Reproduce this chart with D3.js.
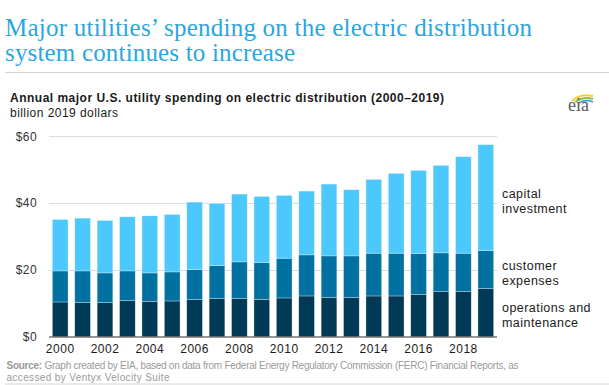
<!DOCTYPE html>
<html><head><meta charset="utf-8">
<script src="https://cdn.jsdelivr.net/npm/d3@7"></script>
<style>body{margin:0;background:#fff}svg{display:block}</style>
</head><body>
<script>
const years = d3.range(2000, 2020);
const om = [10.4,10.3,10.2,10.8,10.6,10.7,11.1,11.4,11.5,11.2,11.6,12.2,11.8,11.7,12.2,12.2,12.7,13.6,13.6,14.4];
const custTop = [19.7,19.7,19.1,19.7,19.1,19.4,20.1,21.3,22.4,22.2,23.5,24.5,24.2,24.2,25.0,25.0,24.9,25.1,25.0,25.8];
const totals = [35.1,35.5,34.8,35.9,36.2,36.6,40.3,39.9,42.7,42.0,42.3,43.6,45.7,44.0,47.1,48.9,49.8,51.3,53.9,57.5];
const customer = custTop.map((v,i)=>+(v-om[i]).toFixed(1));
const capital = totals.map((v,i)=>+(v-custTop[i]).toFixed(1));
const yTicks = [0,20,40,60];
const xTickYears = [2000,2002,2004,2006,2008,2010,2012,2014,2016,2018];
const seriesKeys = ["om","customer","capital"];
const seriesColors = {om:"#003a56", customer:"#0071a0", capital:"#4dc8fd"};

const W=609,H=385;
const SANS="Liberation Sans, Arial, sans-serif", SERIF="Liberation Serif, serif";
const svg=d3.select("body").append("svg").attr("width",W).attr("height",H);

function fitWidth(t, w){
  const cur=t.node().getComputedTextLength();
  if(cur>0) t.attr("textLength",w).attr("lengthAdjust","spacing");
  return t;
}

const t1=svg.append("text").attr("x",5).attr("y",36).attr("font-family",SERIF).attr("font-size",23).attr("fill","#2aa6df").text("Major utilities’ spending on the electric distribution");
const cur1=t1.node().getComputedTextLength();
const tfs=Math.min(25, 23*527/cur1);
t1.attr("font-size",tfs);
fitWidth(t1,527);
const t2=svg.append("text").attr("x",5).attr("y",61).attr("font-family",SERIF).attr("font-size",tfs).attr("fill","#2aa6df").text("system continues to increase");
fitWidth(t2,290);
svg.append("line").attr("x1",5).attr("x2",609).attr("y1",72.5).attr("y2",72.5).attr("stroke","#d4d4d4");

const s1=svg.append("text").attr("x",10).attr("y",102).attr("font-family",SANS).attr("font-weight","bold").attr("font-size",12).attr("fill","#1a1a1a").text("Annual major U.S. utility spending on electric distribution (2000–2019)");
fitWidth(s1,434);
const s2=svg.append("text").attr("x",10).attr("y",117).attr("font-family",SANS).attr("font-size",12).attr("fill","#1a1a1a").text("billion 2019 dollars");
fitWidth(s2,108);

// eia logo
const lg=svg.append("g");
lg.append("path").attr("d","M572,101 Q580,93 593,96").attr("fill","none").attr("stroke","#f2cf3a").attr("stroke-width",2);
lg.append("path").attr("d","M575,102 Q583,96 593,99").attr("fill","none").attr("stroke","#8cc640").attr("stroke-width",2);
lg.append("path").attr("d","M579,103 Q586,99 593,102").attr("fill","none").attr("stroke","#3aa6dd").attr("stroke-width",1.8);
lg.append("text").attr("x",568).attr("y",111).attr("font-family",SERIF).attr("font-size",18).attr("fill","#5a5a5a").text("eia");

const x=d3.scaleBand().domain(years).range([49,497]).paddingInner(0.3).paddingOuter(0.15);
const y=d3.scaleLinear().domain([0,60]).range([336.7,136.3]);

const grid=svg.append("g");
grid.selectAll("line").data(yTicks.filter(d=>d>0)).join("line")
 .attr("x1",49).attr("x2",497).attr("y1",d=>Math.round(y(d))+0.5).attr("y2",d=>Math.round(y(d))+0.5)
 .attr("stroke","#dcdcdc").attr("stroke-width",1);

const yAxis=svg.append("g").attr("transform","translate(49,0)")
 .call(d3.axisLeft(y).tickValues(yTicks).tickSize(0).tickPadding(12).tickFormat(d=>"$"+d));
yAxis.select(".domain").remove();
yAxis.selectAll("text").attr("font-family",SANS).attr("font-size",12).attr("letter-spacing",0.4).attr("fill","#333");

const data=years.map((yr,i)=>({year:yr,om:om[i],customer:customer[i],capital:capital[i]}));
const stack=d3.stack().keys(seriesKeys)(data);
svg.append("g").selectAll("g").data(stack).join("g").attr("fill",d=>seriesColors[d.key])
 .selectAll("rect").data(d=>d).join("rect")
 .attr("x",d=>x(d.data.year)).attr("width",x.bandwidth())
 .attr("y",d=>y(d[1])).attr("height",d=>y(d[0])-y(d[1]))
 .attr("stroke","#fff").attr("stroke-width",0.6).attr("stroke-opacity",0.5);

svg.append("line").attr("x1",49).attr("x2",497).attr("y1",337).attr("y2",337).attr("stroke","#333").attr("stroke-width",1.2);

const xAxis=svg.append("g").attr("transform","translate(0,337)")
 .call(d3.axisBottom(x).tickValues(xTickYears).tickSize(0).tickPadding(7));
xAxis.select(".domain").remove();
xAxis.selectAll("text").attr("font-family",SANS).attr("font-size",12).attr("letter-spacing",0.5).attr("fill","#1a1a1a");

const lab=[["capital",198],["investment",213],["customer",270],["expenses",285],["operations and",312],["maintenance",327]];
lab.forEach(([s,yy])=>{
  svg.append("text").attr("x",502).attr("y",yy).attr("font-family",SANS).attr("font-size",12.5).attr("letter-spacing",0.45).attr("fill","#1a1a1a").text(s);
});

const src=svg.append("text").attr("x",6.5).attr("y",369).attr("font-family",SANS).attr("font-size",10).attr("fill","#9a9a9a");
src.append("tspan").attr("font-weight","bold").text("Source:");
src.append("tspan").text(" Graph created by EIA, based on data from Federal Energy Regulatory Commission (FERC) Financial Reports, as");
fitWidth(src,512);
const src2=svg.append("text").attr("x",6.5).attr("y",380.5).attr("font-family",SANS).attr("font-size",10).attr("fill","#9a9a9a").text("accessed by Ventyx Velocity Suite");
fitWidth(src2,163);
svg.append("line").attr("x1",5).attr("x2",609).attr("y1",384).attr("y2",384).attr("stroke","#d4d4d4");
</script>
</body></html>
